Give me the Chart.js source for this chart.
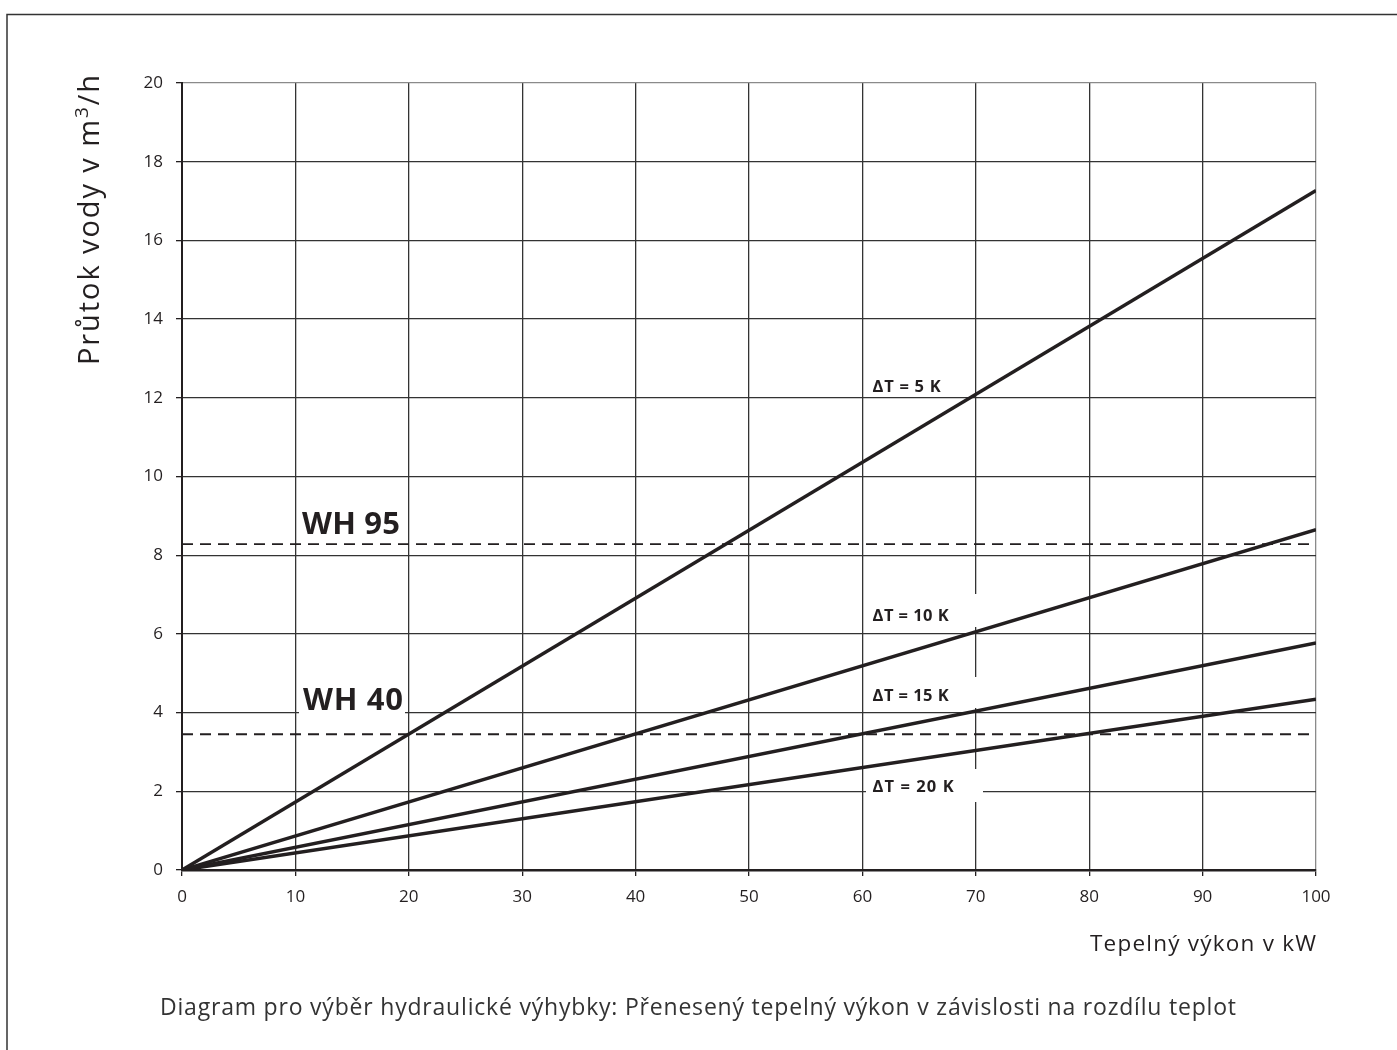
<!DOCTYPE html>
<html>
<head>
<meta charset="utf-8">
<script src="https://cdn.jsdelivr.net/npm/chart.js@4.4.1/dist/chart.umd.min.js"></script>
<style>
  body { margin: 0; background: #fff; }
  canvas { display: block; }
</style>
</head>
<body>
<canvas id="chart" width="1397" height="1050"></canvas>
<script>
// hodnoty odectene z diagramu
var power = [0, 100];            // kW
var flow5 = [0, 17.27];          // m3/h, dT = 5 K
var flow10 = [0, 8.65];          // dT = 10 K
var flow15 = [0, 5.77];          // dT = 15 K
var flow20 = [0, 4.34];          // dT = 20 K
var wh95 = [8.28, 8.28];         // WH 95 limit
var wh40 = [3.45, 3.45];         // WH 40 limit
var xTicks = [0, 10, 20, 30, 40, 50, 60, 70, 80, 90, 100];
var yTicks = [0, 2, 4, 6, 8, 10, 12, 14, 16, 18, 20];

var lineLabels = ["\u0394T = 5 K", "\u0394T = 10 K", "\u0394T = 15 K", "\u0394T = 20 K"];
var ink = "#231f20";
var font = "'Open Sans', sans-serif";

function pts(ys) {
    return power.map(function(p, i) { return {x: p, y: ys[i]}; });
}

function solid(label, ys) {
    return {label: label, data: pts(ys), borderColor: ink, borderWidth: 3.5,
            pointRadius: 0, fill: false, tension: 0};
}
function dashed(label, ys) {
    return {label: label, data: pts(ys), borderColor: ink, borderWidth: 1.8,
            borderDash: [11, 7], pointRadius: 0, fill: false, tension: 0};
}

// text roztazeny na danou sirku (pismo je v originale dost siroke)
// parts: [{t: text, f: font, dy: posun}]
function spaced(c, parts, x, y, width) {
    var nat = 0, n = 0;
    parts.forEach(function(p) {
        c.font = p.f;
        nat += c.measureText(p.t).width;
        n += p.t.length;
    });
    var gap = (width - nat) / (n - 1);
    c.textAlign = "left";
    parts.forEach(function(p) {
        c.font = p.f;
        for (var i = 0; i < p.t.length; i++) {
            c.fillText(p.t[i], x, y + (p.dy || 0));
            x += c.measureText(p.t[i]).width + gap;
        }
    });
}

// popisky s bilym podkladem + ramecek + nazvy os
var textPlugin = {
    id: "texts",
    beforeDatasetsDraw: function(chart) {
        var c = chart.ctx;
        c.save();
        c.fillStyle = "#fff";
        // podklady prekryvaji mrizku
        c.fillRect(866, 594, 117, 33);
        c.fillRect(866, 677, 117, 31);
        c.fillRect(866, 769, 117, 33);
        c.fillRect(299, 683, 106, 36);
        c.restore();
    },
    afterDraw: function(chart) {
        var c = chart.ctx;
        var xs = chart.scales.x;
        c.save();
        // ramecek
        c.strokeStyle = "#333";
        c.lineWidth = 1.5;
        c.beginPath();
        c.moveTo(7, 1050); c.lineTo(7, 14.5); c.lineTo(1397, 14.5);
        c.stroke();

        c.fillStyle = ink;
        c.textBaseline = "alphabetic";
        var lx = xs.getPixelForValue(60.9);
        var bf = "bold 16.5px " + font;
        spaced(c, [{t: lineLabels[0], f: bf}], lx, 392, 68);
        spaced(c, [{t: lineLabels[1], f: bf}], lx, 621, 76);
        spaced(c, [{t: lineLabels[2], f: bf}], lx, 701, 76);
        spaced(c, [{t: lineLabels[3], f: bf}], lx, 792, 81);

        var wf = "bold 31px " + font;
        spaced(c, [{t: "WH 95", f: wf}], 302, 534, 98);
        spaced(c, [{t: "WH 40", f: wf}], 303, 710, 100);

        // x osa
        spaced(c, [{t: "Tepeln\u00fd v\u00fdkon v kW", f: "500 22.5px " + font}], 1090, 951, 226);

        // y osa
        c.save();
        c.translate(99, 365);
        c.rotate(-Math.PI / 2);
        var yf = "29px " + font;
        spaced(c, [{t: "Pr\u016ftok vody v m", f: yf},
                   {t: "3", f: "19px " + font, dy: -11},
                   {t: "/h", f: yf}], 0, 0, 290);
        c.restore();

        // popis
        c.fillStyle = "#333";
        spaced(c, [{t: "Diagram pro v\u00fdb\u011br hydraulick\u00e9 v\u00fdhybky: P\u0159enesen\u00fd tepeln\u00fd v\u00fdkon v z\u00e1vislosti na rozd\u00edlu teplot",
                    f: "23px " + font}], 160, 1015, 1076);
        c.restore();
    }
};

function gridColor(edge) {
    return function(ctx) {
        return ctx.tick && ctx.tick.value === edge ? "#8a8a8a" : "#333";
    };
}

new Chart(document.getElementById("chart"), {
    type: "line",
    data: {
        datasets: [
            solid(lineLabels[0], flow5),
            solid(lineLabels[1], flow10),
            solid(lineLabels[2], flow15),
            solid(lineLabels[3], flow20),
            dashed("WH 95", wh95),
            dashed("WH 40", wh40)
        ]
    },
    options: {
        responsive: false,
        animation: false,
        devicePixelRatio: 1,
        layout: {padding: {left: 8, right: 81, top: 83, bottom: 140}},
        plugins: {legend: {display: false}, tooltip: {enabled: false}},
        scales: {
            x: {
                type: "linear", min: 0, max: 100,
                afterBuildTicks: function(s) { s.ticks = xTicks.map(function(v) { return {value: v}; }); },
                afterFit: function(s) { s.height = 40; },
                grid: {color: gridColor(100), lineWidth: 1.3, tickLength: 6, tickColor: ink},
                border: {color: ink, width: 2.5},
                ticks: {color: ink, font: {family: font, size: 17}, padding: 11, maxRotation: 0}
            },
            y: {
                type: "linear", min: 0, max: 20,
                afterBuildTicks: function(s) { s.ticks = yTicks.map(function(v) { return {value: v}; }); },
                afterFit: function(s) { s.width = 174; },
                grid: {color: gridColor(20), lineWidth: 1.3, tickLength: 6, tickColor: ink},
                border: {color: ink, width: 2},
                ticks: {color: ink, font: {family: font, size: 17}, padding: 13}
            }
        }
    },
    plugins: [textPlugin]
});
</script>
</body>
</html>
